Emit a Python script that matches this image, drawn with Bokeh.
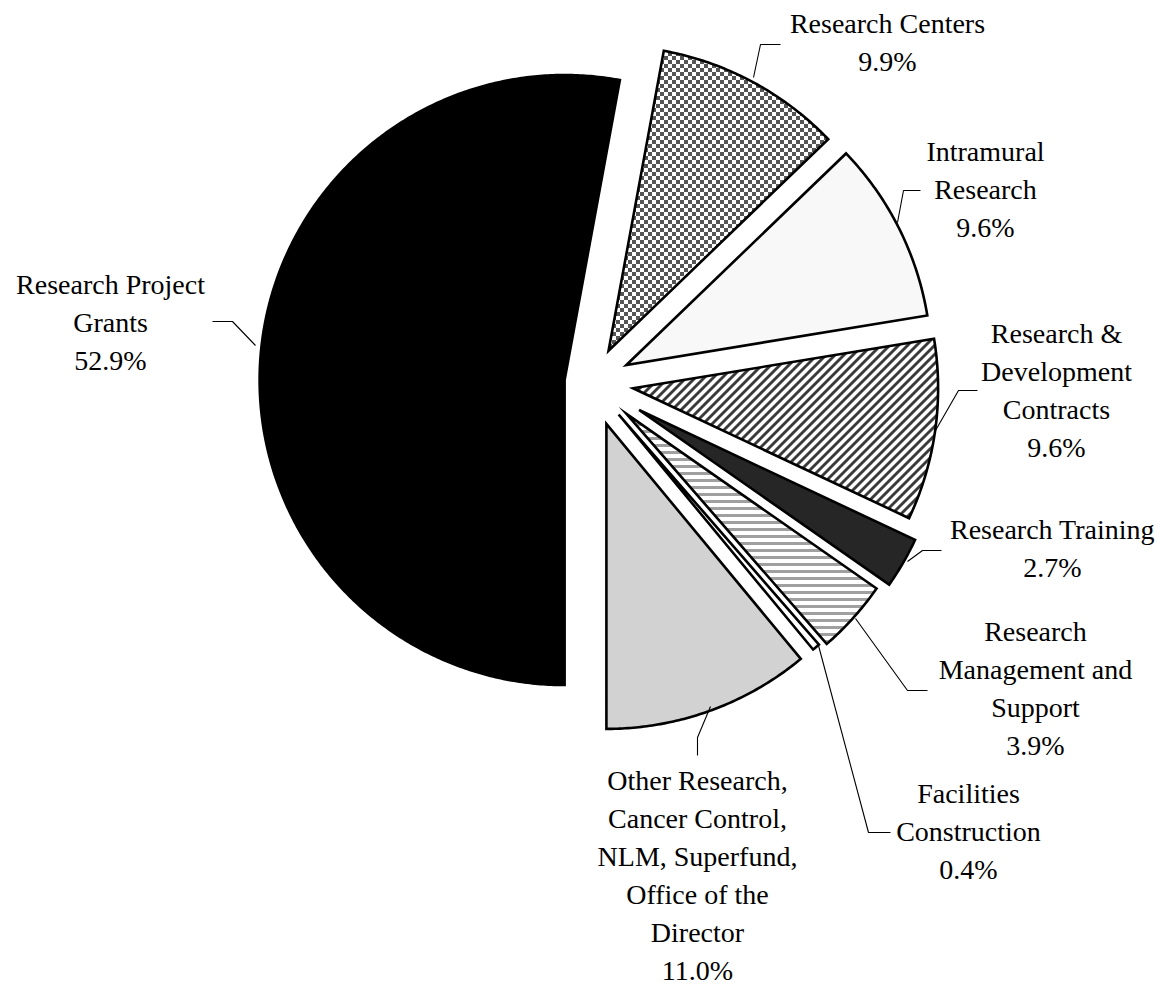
import base64
import struct
import zlib

import numpy as np
from bokeh.core.properties import value
from bokeh.embed import file_html
from bokeh.models import ColumnDataSource, ImageURLTexture, Range1d
from bokeh.plotting import figure
from bokeh.resources import INLINE

# ---------------- data ----------------
categories = [
    "Research Project\nGrants",
    "Research Centers",
    "Intramural\nResearch",
    "Research &\nDevelopment\nContracts",
    "Research Training",
    "Research\nManagement and\nSupport",
    "Facilities\nConstruction",
    "Other Research,\nCancer Control,\nNLM, Superfund,\nOffice of the\nDirector",
]
shares = [52.9, 9.9, 9.6, 9.6, 2.7, 3.9, 0.4, 11.0]

# ---------------- styles / layout ----------------
W, H = 1171, 986             # canvas == page (Bokeh page has no body margin)
CENTER = (591, 382)          # page coords of pie centre
RADIUS = 305
START_DEG = 270.0            # pie starts at 6 o'clock and runs clockwise
explode = [27, 36, 39, 42, 55, 47, 42, 44]
fills = ["#000000", "#ffffff", "#f8f8f8", "#ffffff", "#262626", "#ffffff", "#ffffff", "#d2d2d2"]
hatches = [" ", "checker", " ", "diag", " ", "-", " ", " "]
hatch_colors = ["#000000", "#000000", "#000000", "#444444", "#000000", "#a0a0a0", "#000000", "#000000"]
hatch_weights = [1, 1, 1, 1, 1, 3.0, 1, 1]
hatch_scales = [6, 6, 6, 6, 6, 7, 6, 6]

# label block centres (page coords)
label_pos = [(110, 322), (887, 42), (985, 189), (1056, 390), (1052, 548),
             (1035, 688), (968, 831), (697, 875)]
# leader polylines (page coords)
leaders = [
    [(212, 321), (232, 321), (255, 345)],
    [(780, 44), (760, 44), (753, 77)],
    [(920, 190), (903, 190), (897, 222)],
    [(977, 390), (958, 390), (935, 430)],
    [(941, 550), (922, 550), (907, 561)],
    [(927, 690), (907, 690), (855, 618)],
    [(890, 832), (868, 832), (818, 645)],
    [(697, 755), (697, 737), (710, 706)],
]
FONT = "Liberation Serif"
FONT_SIZE = "28px"
LINE_HEIGHT = 1.23


def png_data_uri(rows):
    h = len(rows)
    w = len(rows[0])
    raw = b"".join(b"\x00" + bytes([c for px in row for c in px]) for row in rows)

    def chunk(t, d):
        c = struct.pack(">I", len(d)) + t + d
        return c + struct.pack(">I", zlib.crc32(t + d) & 0xFFFFFFFF)

    png = (b"\x89PNG\r\n\x1a\n"
           + chunk(b"IHDR", struct.pack(">IIBBBBB", w, h, 8, 2, 0, 0, 0))
           + chunk(b"IDAT", zlib.compress(raw))
           + chunk(b"IEND", b""))
    return "data:image/png;base64," + base64.b64encode(png).decode()


WHITE = (255, 255, 255)

# checkerboard texture
dark = (85, 85, 85)
cell = 4
checker_tile = [[dark if ((x // cell) + (y // cell)) % 2 == 0 else WHITE for x in range(2 * cell)]
                for y in range(2 * cell)]
checker = ImageURLTexture(url=png_data_uri(checker_tile), repetition="repeat")

# 45-degree "/" stripes texture
period = 9
stripe_dark, stripe_edge = (58, 58, 58), (150, 150, 150)


def stripe_px(x, y):
    k = (x + y) % period
    if k <= 2:
        return stripe_dark
    if k in (3, period - 1):
        return stripe_edge
    return WHITE


diag_tile = [[stripe_px(x, y) for x in range(period)] for y in range(period)]
diag = ImageURLTexture(url=png_data_uri(diag_tile), repetition="repeat")


def to_data(px, py):
    return px, H - py


cx, cy = to_data(*CENTER)
total = float(sum(shares))
xs, ys = [], []
angle = START_DEG
for v, d in zip(shares, explode):
    span = 360.0 * v / total
    a0, a1 = angle, angle - span
    mid = np.deg2rad((a0 + a1) / 2)
    tx, ty = cx + d * np.cos(mid), cy + d * np.sin(mid)
    n = max(4, int(span * 2))
    arc = np.deg2rad(np.linspace(a0, a1, n))
    px = [tx] + list(tx + RADIUS * np.cos(arc))
    py = [ty] + list(ty + RADIUS * np.sin(arc))
    xs.append(px)
    ys.append(py)
    angle = a1

src = ColumnDataSource(dict(xs=xs, ys=ys, fill=fills, hatch=hatches, hcolor=hatch_colors,
                            hweight=hatch_weights, hscale=hatch_scales))

p = figure(width=W, height=H, output_backend="svg", toolbar_location=None,
           x_range=Range1d(0, W), y_range=Range1d(0, H),
           x_axis_location=None, y_axis_location=None, min_border=0)
p.grid.visible = False
p.outline_line_color = None
p.background_fill_color = "#ffffff"

p.patches("xs", "ys", source=src, fill_color="fill", line_color="#000000", line_width=2.6,
          line_join="miter", hatch_pattern="hatch", hatch_color="hcolor",
          hatch_weight="hweight", hatch_scale="hscale",
          hatch_extra={"checker": checker, "diag": diag})

for pts in leaders:
    lx = [to_data(*q)[0] for q in pts]
    ly = [to_data(*q)[1] for q in pts]
    p.line(lx, ly, line_color="#000000", line_width=1.1)

texts = [f"{c}\n{v:.1f}%" for c, v in zip(categories, shares)]
lsrc = ColumnDataSource(dict(x=[to_data(*q)[0] for q in label_pos],
                             y=[to_data(*q)[1] for q in label_pos], text=texts))
p.text("x", "y", text="text", source=lsrc, text_font=value(FONT), text_font_size=FONT_SIZE,
       text_align="center", text_baseline="middle", text_line_height=LINE_HEIGHT,
       text_color="#000000")

open("out.html", "w").write(file_html(p, INLINE))
